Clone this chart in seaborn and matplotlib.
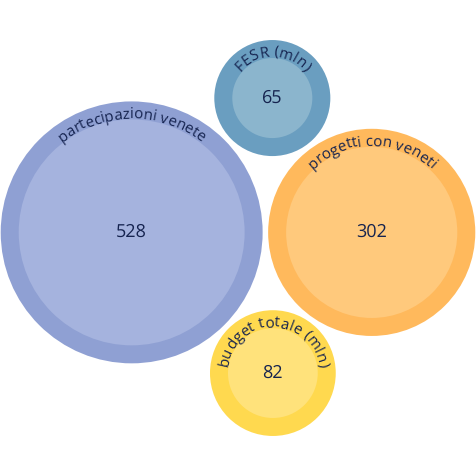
import numpy as np
import matplotlib
matplotlib.use("Agg")
import matplotlib.pyplot as plt
from matplotlib.patches import Circle
from matplotlib.font_manager import FontProperties, findfont, get_font
from matplotlib.backends.backend_agg import get_hinting_flag
import seaborn as sns

# data
labels = ["partecipazioni venete", "progetti con veneti", "FESR (mln)", "budget totale (mln)"]
values = [528, 302, 65, 82]
outer_colors = ["#8fa0d3", "#ffb95c", "#6a9ec0", "#ffd94f"]
inner_colors = ["#a5b3de", "#ffc97c", "#8bb5cd", "#ffe27b"]

sns.set_theme(style="white")
plt.rcParams["font.family"] = ["Open Sans", "DejaVu Sans"]
plt.rcParams["text.hinting"] = "none"
plt.rcParams["text.hinting_factor"] = 1

W = 476
text_color = "#15234f"
ring = 18   # ring thickness in px
pad = 5.5   # gap between bubbles

# radius scale: r = a + b*sqrt(v)
a, b = 18.6, 4.89
radii = [a + b * np.sqrt(v) for v in values]

# layout: two big bubbles side by side, the small ones tangent to both above / below
r0, r1, r2, r3 = radii
c0 = np.array([0.0, 0.0])
c1 = np.array([r0 + r1 + pad, 0.0])


def tangent_point(ca, ra, cb, rb, r, up=True):
    d = np.linalg.norm(cb - ca)
    da, db = ra + r + pad, rb + r + pad
    x = (da ** 2 - db ** 2 + d ** 2) / (2 * d)
    y = np.sqrt(da ** 2 - x ** 2)
    return ca + np.array([x, y if up else -y])


c2 = tangent_point(c0, r0, c1, r1, r2, up=True)
c3 = tangent_point(c0, r0, c1, r1, r3, up=False)
centers = np.array([c0, c1, c2, c3])

# fit into the square
xmin = (centers[:, 0] - radii).min()
xmax = (centers[:, 0] + radii).max()
ymin = (centers[:, 1] - radii).min()
ymax = (centers[:, 1] + radii).max()
centers[:, 0] += (W - (xmax - xmin)) / 2 - xmin
centers[:, 1] += W / 2 - (ymax + ymin) / 2

fig = plt.figure(figsize=(4.76, 4.76), dpi=100)
ax = fig.add_axes([0, 0, 1, 1])
ax.set_xlim(0, W)
ax.set_ylim(0, W)
ax.set_aspect("equal")
ax.axis("off")

label_size = 10.6
value_size = 13
fp = FontProperties(family=["Open Sans", "DejaVu Sans"], size=label_size, weight="medium")
ft = get_font(findfont(fp), hinting_factor=1)
ft.set_size(label_size, 100)


def glyph_metrics(c):
    g = ft.load_char(ord(c), flags=get_hinting_flag())
    adv = g.linearHoriAdvance / 65536
    ink_mid = g.horiBearingX / 64 + g.width / 128
    return adv, ink_mid


for (cx, cy), r, lab, val, oc, ic in zip(centers, radii, labels, values, outer_colors, inner_colors):
    ax.add_patch(Circle((cx, cy), r, color=oc, lw=0))
    ax.add_patch(Circle((cx, cy), r - ring, color=ic, lw=0))
    ax.text(cx, cy, str(val), ha="center", va="center", fontsize=value_size,
            color=text_color, fontweight="medium")

    # curved label along the top of the bubble
    R = r - ring + 1
    mets = [glyph_metrics(ch) for ch in lab]
    total = sum(m[0] for m in mets) / R
    theta0 = np.pi / 2 + total / 2
    cum = 0
    for ch, (adv, mid) in zip(lab, mets):
        th = theta0 - (cum + mid) / R
        cum += adv
        if ch == " ":
            continue
        ax.text(cx + R * np.cos(th), cy + R * np.sin(th), ch, fontproperties=fp,
                color=text_color, ha="center", va="baseline",
                rotation=np.degrees(th) - 90, rotation_mode="anchor")

fig.savefig("out.png", dpi=100)
